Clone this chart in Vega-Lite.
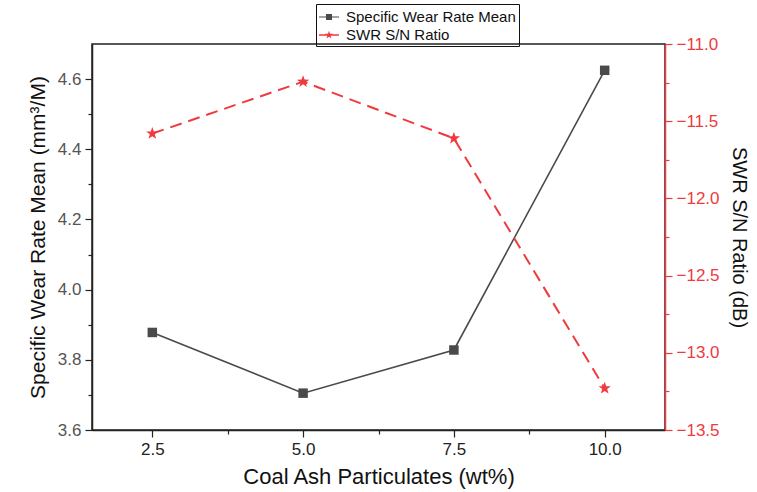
{
  "$schema": "https://vega.github.io/schema/vega-lite/v6.json",
  "autosize": {"type": "none"},
  "width": 573,
  "height": 386,
  "padding": {"left": 92, "top": 44, "right": 92, "bottom": 62},
  "background": "white",
  "config": {
    "view": {"stroke": "#222", "strokeWidth": 1.5},
    "font": "Liberation Sans",
    "axis": {"labelFont": "Liberation Sans", "titleFont": "Liberation Sans", "titleFontWeight": "normal", "grid": false, "domainWidth": 1.5, "tickWidth": 1.2, "tickSize": 7}
  },
  "data": {"values": [
    {"wt": 2.5, "swr": 3.878, "sn": -11.58},
    {"wt": 5.0, "swr": 3.705, "sn": -11.244},
    {"wt": 7.5, "swr": 3.828, "sn": -11.611},
    {"wt": 10.0, "swr": 4.625, "sn": -13.23}
  ]},
  "encoding": {
    "x": {"field": "wt", "type": "quantitative", "scale": {"domain": [1.5, 11], "nice": false, "zero": false},
      "axis": {"title": "Coal Ash Particulates (wt%)", "values": [2.5, 3.75, 5, 6.25, 7.5, 8.75, 10],
        "labelExpr": "datum.value % 2.5 === 0 ? format(datum.value, '.1f') : ''",
        "tickDash": {"condition": {"test": "datum.value % 2.5 !== 0", "value": [4, 20]}, "value": []},
        "domainColor": "#222", "tickColor": "#222", "labelColor": "#222", "labelFontSize": 17, "labelPadding": 4,
        "titleFontSize": 22, "titleColor": "#111", "titlePadding": 9}}
  },
  "layer": [
    {
      "encoding": {
        "y": {"field": "swr", "type": "quantitative", "scale": {"domain": [3.6, 4.7], "nice": false, "zero": false},
          "axis": {"title": "Specific Wear Rate Mean (mm³/M)", "values": [3.6, 3.7, 3.8, 3.9, 4.0, 4.1, 4.2, 4.3, 4.4, 4.5, 4.6],
            "labelExpr": "abs(datum.value * 5 - round(datum.value * 5)) < 0.01 ? format(datum.value, '.1f') : ''",
            "tickDash": {"condition": {"test": "abs(datum.value * 5 - round(datum.value * 5)) > 0.01", "value": [4, 20]}, "value": []},
            "domainColor": "#222", "tickColor": "#222", "labelColor": "#555", "labelFontSize": 17, "labelPadding": 4,
            "titleFontSize": 21, "titleColor": "#111", "titlePadding": 9}}
      },
      "layer": [
        {"mark": {"type": "line", "color": "#4a4a4a", "strokeWidth": 1.6}},
        {"mark": {"type": "point", "shape": "square", "filled": true, "size": 90, "opacity": 1},
          "encoding": {"color": {"datum": "Specific Wear Rate Mean", "type": "nominal",
            "scale": {"domain": ["Specific Wear Rate Mean", "SWR S/N Ratio"], "range": ["#4a4a4a", "#ef3a3e"]},
            "legend": {"orient": "none", "legendX": 224, "legendY": -40, "title": null,
              "strokeColor": "#111", "padding": 3, "labelFont": "Liberation Sans", "labelFontSize": 15, "labelColor": "#111", "labelLimit": 400,
              "symbolSize": 400, "rowPadding": -3, "labelOffset": 7, "symbolStrokeWidth": 0, "symbolOpacity": 1,
              "symbolType": {"expr": "datum.value === 'SWR S/N Ratio' ? 'M-1,-0.08H1V0.08H-1Z M0,-0.42L0.099,-0.136L0.4,-0.13L0.16,0.052L0.247,0.34L0,0.168L-0.247,0.34L-0.16,0.052L-0.4,-0.13L-0.099,-0.136Z' : 'M-1,-0.06H1V0.06H-1Z M-0.3,-0.3H0.3V0.3H-0.3Z'"}}}}}
      ]
    },
    {
      "encoding": {
        "y": {"field": "sn", "type": "quantitative", "scale": {"domain": [-13.5, -11.0], "nice": false, "zero": false},
          "axis": {"orient": "right", "title": "SWR S/N Ratio (dB)", "values": [-13.5, -13.25, -13.0, -12.75, -12.5, -12.25, -12.0, -11.75, -11.5, -11.25, -11.0],
            "labelExpr": "datum.value * 2 === round(datum.value * 2) ? format(datum.value, '.1f') : ''",
            "tickDash": {"condition": {"test": "datum.value * 2 !== round(datum.value * 2)", "value": [4, 20]}, "value": []},
            "domainColor": "#ef3a3e", "tickColor": "#ef3a3e", "labelColor": "#ef3a3e", "labelFontSize": 17, "labelPadding": 4,
            "titleFontSize": 20, "titleColor": "#111", "titlePadding": 9}}
      },
      "layer": [
        {"mark": {"type": "line", "color": "#ef3a3e", "strokeWidth": 2, "strokeDash": [12, 7]}},
        {"mark": {"type": "point", "shape": "M0,-1L0.235,-0.324L0.951,-0.309L0.380,0.124L0.588,0.809L0,0.4L-0.588,0.809L-0.380,0.124L-0.951,-0.309L-0.235,-0.324Z", "filled": true, "size": 169, "opacity": 1},
          "encoding": {"color": {"datum": "SWR S/N Ratio", "type": "nominal"}}}
      ]
    }
  ],
  "resolve": {"scale": {"y": "independent"}}
}
